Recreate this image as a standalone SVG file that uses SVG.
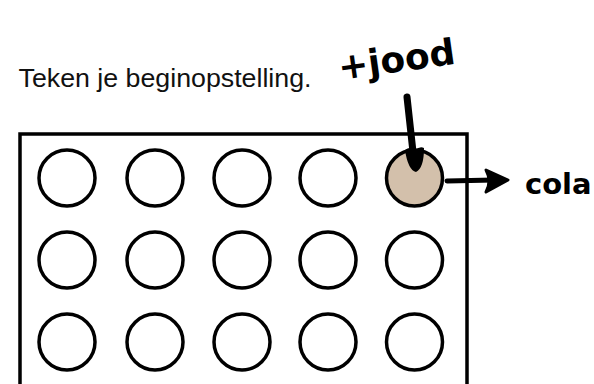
<svg xmlns="http://www.w3.org/2000/svg" width="594" height="384" viewBox="0 0 594 384">
<style>
.well{fill:#fff;stroke:#000;stroke-width:3.5}
.filled{fill:#d3c0ab}
.t{font-family:"Liberation Sans",Arial,sans-serif;font-size:25px;fill:#111}
.hand{font-family:"DejaVu Sans",sans-serif;font-weight:bold;fill:#000}
</style>
<rect width="594" height="384" fill="#fff"/>
<text class="t" x="18.5" y="87" textLength="293" lengthAdjust="spacingAndGlyphs">Teken je beginopstelling.</text>
<g id="plate">
<path d="M20,386 V134 H467 V386" fill="none" stroke="#000" stroke-width="3.5"/>
</g>
<g id="wells">
<circle class="well" cx="67" cy="178" r="28"/>
<circle class="well" cx="155" cy="178" r="28"/>
<circle class="well" cx="242" cy="178" r="28"/>
<circle class="well" cx="328" cy="178" r="28"/>
<circle class="well filled" cx="414.5" cy="178" r="28"/>
<circle class="well" cx="67" cy="260" r="28"/>
<circle class="well" cx="155" cy="260" r="28"/>
<circle class="well" cx="242" cy="260" r="28"/>
<circle class="well" cx="328" cy="260" r="28"/>
<circle class="well" cx="414.5" cy="260" r="28"/>
<circle class="well" cx="67" cy="342" r="28"/>
<circle class="well" cx="155" cy="342" r="28"/>
<circle class="well" cx="242" cy="342" r="28"/>
<circle class="well" cx="328" cy="342" r="28"/>
<circle class="well" cx="414.5" cy="342" r="28"/>
</g>
<g id="connectors">
<path d="M407,97 L413,152" stroke="#000" stroke-width="7" stroke-linecap="round" fill="none"/>
<path d="M405,150 Q410,146 415,150 Q420,146 424,148 Q424,168 416,172 Q408,170 405,150 Z" fill="#000"/>
<path d="M447,181 L494,180" stroke="#000" stroke-width="5" stroke-linecap="round" fill="none"/>
<path d="M486,170 L508,180 L486,192 Q492,181 486,170 Z" fill="#000" stroke="#000" stroke-width="3" stroke-linejoin="round"/>
</g>
<text class="hand" x="340" y="80" font-size="36" transform="rotate(-8 340 80)">+jood</text>
<text class="hand" x="525" y="194" font-size="29">cola</text>
</svg>
